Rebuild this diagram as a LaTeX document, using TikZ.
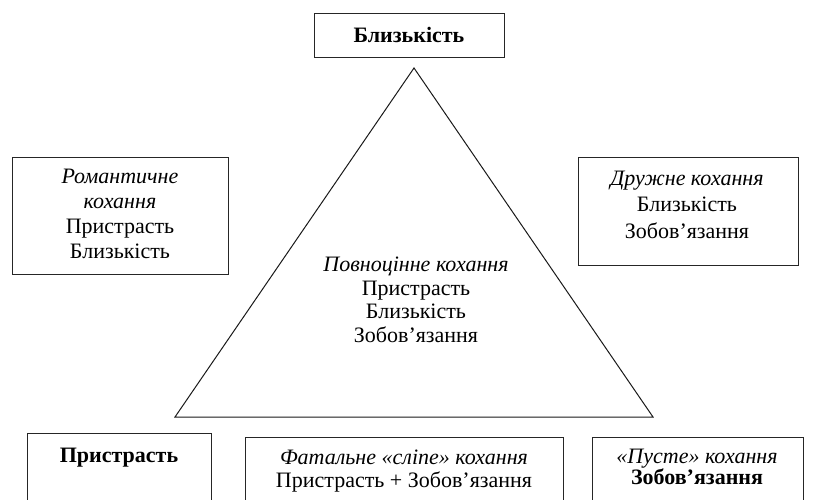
\documentclass[tikz,border=0pt]{standalone}
\usepackage{fontspec}
\setmainfont{Liberation Serif}
\begin{document}
\begin{tikzpicture}[x=1pt,y=1pt,
  box/.style={draw=black!85, line width=1pt, rectangle, inner sep=0pt, anchor=north west},
  txt/.style={align=center, inner sep=0pt, anchor=base},
  fs/.style={font=\fontsize{22}{#1}\selectfont},
  tri/.style={draw=black!90, line width=1pt, line join=miter}]
\clip (0,0) rectangle (829,499);
\useasboundingbox (0,0) rectangle (829,499);
% boxes
\node[box, minimum width=190pt, minimum height=44pt] (topbox) at (314,486) {};
\node[box, minimum width=216pt, minimum height=117pt] (leftbox) at (12,342) {};
\node[box, minimum width=220pt, minimum height=108pt] (rightbox) at (578,342) {};
\node[box, minimum width=184pt, minimum height=100pt] (pbox) at (27,66) {};
\node[box, minimum width=318pt, minimum height=100pt] (fbox) at (245,62) {};
\node[box, minimum width=211pt, minimum height=100pt] (ebox) at (592,62) {};
% triangle
\coordinate (A) at (414,431);
\coordinate (B) at (175,82);
\coordinate (C) at (653,82);
\draw[tri] (A) -- (B) -- (C) -- cycle;
% texts (anchor base = last line baseline)
\node[txt, fs=23.5] (toptxt) at (409,456) {\textbf{Близькість}};
\node[txt, fs=25] (lefttxt) at (120,241) {\textit{Романтичне}\\\textit{кохання}\\Пристрасть\\Близькість};
\node[txt, fs=26.5] (righttxt) at (687,261) {\textit{Дружне кохання}\\Близькість\\Зобов’язання};
\node[txt, fs=23.5] (centertxt) at (416,157) {\textit{Повноцінне кохання}\\Пристрасть\\Близькість\\Зобов’язання};
\node[txt, fs=23.5] (ptxt) at (119,37) {\textbf{Пристрасть}};
\node[txt, fs=22.5] (ftxt) at (404,12) {\textit{Фатальне «сліпе» кохання}\\Пристрасть + Зобов’язання};
\node[txt, fs=21] (etxt) at (697,15) {\textit{«Пусте» кохання}\\\textbf{Зобов’язання}};
\end{tikzpicture}
\end{document}
